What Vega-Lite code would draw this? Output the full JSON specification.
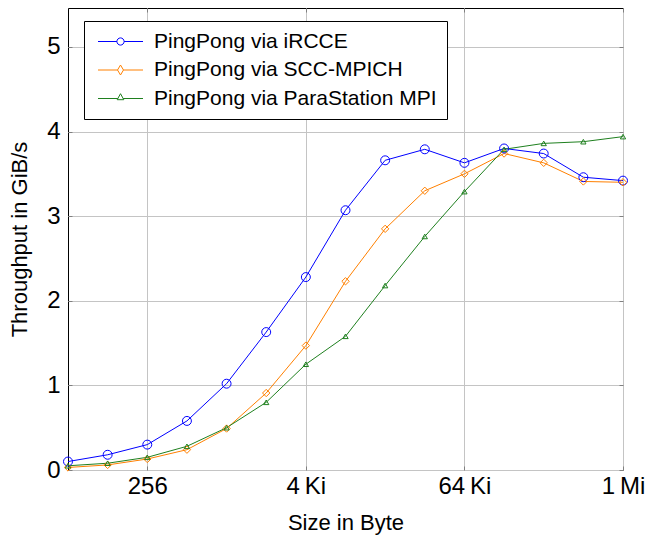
{
  "$schema": "https://vega.github.io/schema/vega-lite/v6.json",
  "width": 555,
  "height": 462,
  "autosize": {"type": "none"},
  "padding": {"left": 68, "top": 8, "right": 26, "bottom": 67},
  "background": "white",
  "config": {
    "font": "Liberation Sans",
    "view": {"stroke": "black", "strokeWidth": 1},
    "axis": {
      "labelFont": "Liberation Sans",
      "labelFontSize": 24,
      "labelColor": "black",
      "titleFont": "Liberation Sans",
      "titleFontSize": 22,
      "titleFontWeight": "normal",
      "titleColor": "black",
      "gridColor": "#c4c4c4",
      "gridWidth": 1,
      "gridOpacity": 1,
      "tickColor": "#808080",
      "tickWidth": 1,
      "domain": false,
      "labelFlush": false,
      "labelOverlap": false
    }
  },
  "data": {
    "values": [
      {"size": 64, "series": "PingPong via iRCCE", "gib": 0.10},
      {"size": 128, "series": "PingPong via iRCCE", "gib": 0.18},
      {"size": 256, "series": "PingPong via iRCCE", "gib": 0.30},
      {"size": 512, "series": "PingPong via iRCCE", "gib": 0.58},
      {"size": 1024, "series": "PingPong via iRCCE", "gib": 1.02},
      {"size": 2048, "series": "PingPong via iRCCE", "gib": 1.63},
      {"size": 4096, "series": "PingPong via iRCCE", "gib": 2.28},
      {"size": 8192, "series": "PingPong via iRCCE", "gib": 3.07},
      {"size": 16384, "series": "PingPong via iRCCE", "gib": 3.66},
      {"size": 32768, "series": "PingPong via iRCCE", "gib": 3.79},
      {"size": 65536, "series": "PingPong via iRCCE", "gib": 3.63},
      {"size": 131072, "series": "PingPong via iRCCE", "gib": 3.80},
      {"size": 262144, "series": "PingPong via iRCCE", "gib": 3.74},
      {"size": 524288, "series": "PingPong via iRCCE", "gib": 3.46},
      {"size": 1048576, "series": "PingPong via iRCCE", "gib": 3.42},
      {"size": 64, "series": "PingPong via SCC-MPICH", "gib": 0.03},
      {"size": 128, "series": "PingPong via SCC-MPICH", "gib": 0.06},
      {"size": 256, "series": "PingPong via SCC-MPICH", "gib": 0.13},
      {"size": 512, "series": "PingPong via SCC-MPICH", "gib": 0.24},
      {"size": 1024, "series": "PingPong via SCC-MPICH", "gib": 0.49},
      {"size": 2048, "series": "PingPong via SCC-MPICH", "gib": 0.91},
      {"size": 4096, "series": "PingPong via SCC-MPICH", "gib": 1.47},
      {"size": 8192, "series": "PingPong via SCC-MPICH", "gib": 2.23},
      {"size": 16384, "series": "PingPong via SCC-MPICH", "gib": 2.85},
      {"size": 32768, "series": "PingPong via SCC-MPICH", "gib": 3.30},
      {"size": 65536, "series": "PingPong via SCC-MPICH", "gib": 3.50},
      {"size": 131072, "series": "PingPong via SCC-MPICH", "gib": 3.74},
      {"size": 262144, "series": "PingPong via SCC-MPICH", "gib": 3.63},
      {"size": 524288, "series": "PingPong via SCC-MPICH", "gib": 3.41},
      {"size": 1048576, "series": "PingPong via SCC-MPICH", "gib": 3.40},
      {"size": 64, "series": "PingPong via ParaStation MPI", "gib": 0.05},
      {"size": 128, "series": "PingPong via ParaStation MPI", "gib": 0.08},
      {"size": 256, "series": "PingPong via ParaStation MPI", "gib": 0.15},
      {"size": 512, "series": "PingPong via ParaStation MPI", "gib": 0.28},
      {"size": 1024, "series": "PingPong via ParaStation MPI", "gib": 0.50},
      {"size": 2048, "series": "PingPong via ParaStation MPI", "gib": 0.80},
      {"size": 4096, "series": "PingPong via ParaStation MPI", "gib": 1.25},
      {"size": 8192, "series": "PingPong via ParaStation MPI", "gib": 1.58},
      {"size": 16384, "series": "PingPong via ParaStation MPI", "gib": 2.18},
      {"size": 32768, "series": "PingPong via ParaStation MPI", "gib": 2.76},
      {"size": 65536, "series": "PingPong via ParaStation MPI", "gib": 3.29},
      {"size": 131072, "series": "PingPong via ParaStation MPI", "gib": 3.79},
      {"size": 262144, "series": "PingPong via ParaStation MPI", "gib": 3.86},
      {"size": 524288, "series": "PingPong via ParaStation MPI", "gib": 3.88},
      {"size": 1048576, "series": "PingPong via ParaStation MPI", "gib": 3.94}
    ]
  },
  "layer": [
    {
      "mark": {"type": "line", "strokeWidth": 1},
      "encoding": {
        "x": {
          "field": "size", "type": "quantitative",
          "scale": {"type": "log", "base": 2, "domain": [64, 1048576], "nice": false},
          "axis": {
            "values": [256, 4096, 65536, 1048576],
            "labelExpr": "datum.value == 256 ? '256' : datum.value == 4096 ? '4\u2009Ki' : datum.value == 65536 ? '64\u2009Ki' : '1\u2009Mi'",
            "title": "Size in Byte",
            "grid": true,
            "tickSize": -4,
            "labelPadding": 8,
            "titlePadding": 14
          }
        },
        "y": {
          "field": "gib", "type": "quantitative",
          "scale": {"domain": [0, 5.46], "nice": false, "zero": false},
          "axis": {
            "values": [0, 1, 2, 3, 4, 5],
            "title": "Throughput in GiB/s",
            "grid": true,
            "tickSize": -4,
            "labelPadding": 12,
            "titlePadding": 15
          }
        },
        "color": {
          "field": "series", "type": "nominal",
          "scale": {"domain": ["PingPong via iRCCE", "PingPong via SCC-MPICH", "PingPong via ParaStation MPI"], "range": ["#0000ff", "#ff8000", "#1f801f"]},
          "legend": null
        }
      }
    },
    {
      "mark": {"type": "point", "filled": false, "strokeWidth": 1, "opacity": 1},
      "encoding": {
        "x": {"field": "size", "type": "quantitative", "axis": null},
        "y": {"field": "gib", "type": "quantitative", "axis": null},
        "color": {
          "field": "series", "type": "nominal",
          "scale": {"domain": ["PingPong via iRCCE", "PingPong via SCC-MPICH", "PingPong via ParaStation MPI"], "range": ["#0000ff", "#ff8000", "#1f801f"]},
          "legend": null
        },
        "shape": {
          "field": "series", "type": "nominal",
          "scale": {"domain": ["PingPong via iRCCE", "PingPong via SCC-MPICH", "PingPong via ParaStation MPI"], "range": ["circle", "diamond", "triangle-up"]},
          "legend": null
        },
        "size": {
          "field": "series", "type": "nominal",
          "scale": {"domain": ["PingPong via iRCCE", "PingPong via SCC-MPICH", "PingPong via ParaStation MPI"], "range": [80, 28, 70]},
          "legend": null
        }
      }
    },
    {
      "mark": {"type": "point", "filled": false, "size": 0, "opacity": 0, "strokeWidth": 1},
      "encoding": {
        "x": {
          "field": "size", "type": "quantitative",
          "axis": {"orient": "top", "values": [256, 4096, 65536, 1048576], "labels": false, "grid": false, "tickSize": -4, "title": null}
        },
        "y": {
          "field": "gib", "type": "quantitative",
          "axis": {"orient": "right", "values": [0, 1, 2, 3, 4, 5], "labels": false, "grid": false, "tickSize": -4, "title": null}
        },
        "color": {
          "field": "series", "type": "nominal",
          "scale": {"domain": ["PingPong via iRCCE", "PingPong via SCC-MPICH", "PingPong via ParaStation MPI"], "range": ["#0000ff", "#ff8000", "#1f801f"]},
          "legend": {
            "title": null, "orient": "none", "legendX": 16, "legendY": 13,
            "symbolSize": 144, "symbolStrokeWidth": 1, "symbolOpacity": 1,
            "labelFont": "Liberation Sans", "labelFontSize": 21, "labelColor": "black", "labelLimit": 500,
            "padding": 10, "rowPadding": 6.5, "symbolOffset": 16, "labelOffset": 23,
            "strokeColor": "black", "fillColor": "white"
          }
        },
        "shape": {
          "field": "series", "type": "nominal",
          "scale": {"domain": ["PingPong via iRCCE", "PingPong via SCC-MPICH", "PingPong via ParaStation MPI"], "range": [
            "M-3.75,0H-0.6M0.6,0H3.75M-0.6,0A0.6,0.6,0,1,1,0.6,0A0.6,0.6,0,1,1,-0.6,0",
            "M-3.75,0H-0.5M0.5,0H3.75M-0.5,0L0,-0.83L0.5,0L0,0.83Z",
            "M-3.75,0H-0.44M0.44,0H3.75M-0.55,0.2L0,-0.8L0.55,0.2Z"
          ]},
          "legend": {
            "title": null, "orient": "none", "legendX": 16, "legendY": 13,
            "symbolSize": 144, "symbolStrokeWidth": 1, "symbolOpacity": 1,
            "labelFont": "Liberation Sans", "labelFontSize": 21, "labelColor": "black", "labelLimit": 500,
            "padding": 10, "rowPadding": 6.5, "symbolOffset": 16, "labelOffset": 23,
            "strokeColor": "black", "fillColor": "white"
          }
        }
      }
    }
  ],
  "resolve": {
    "scale": {"color": "independent", "shape": "independent", "size": "independent"},
    "axis": {"x": "independent", "y": "independent"}
  }
}
